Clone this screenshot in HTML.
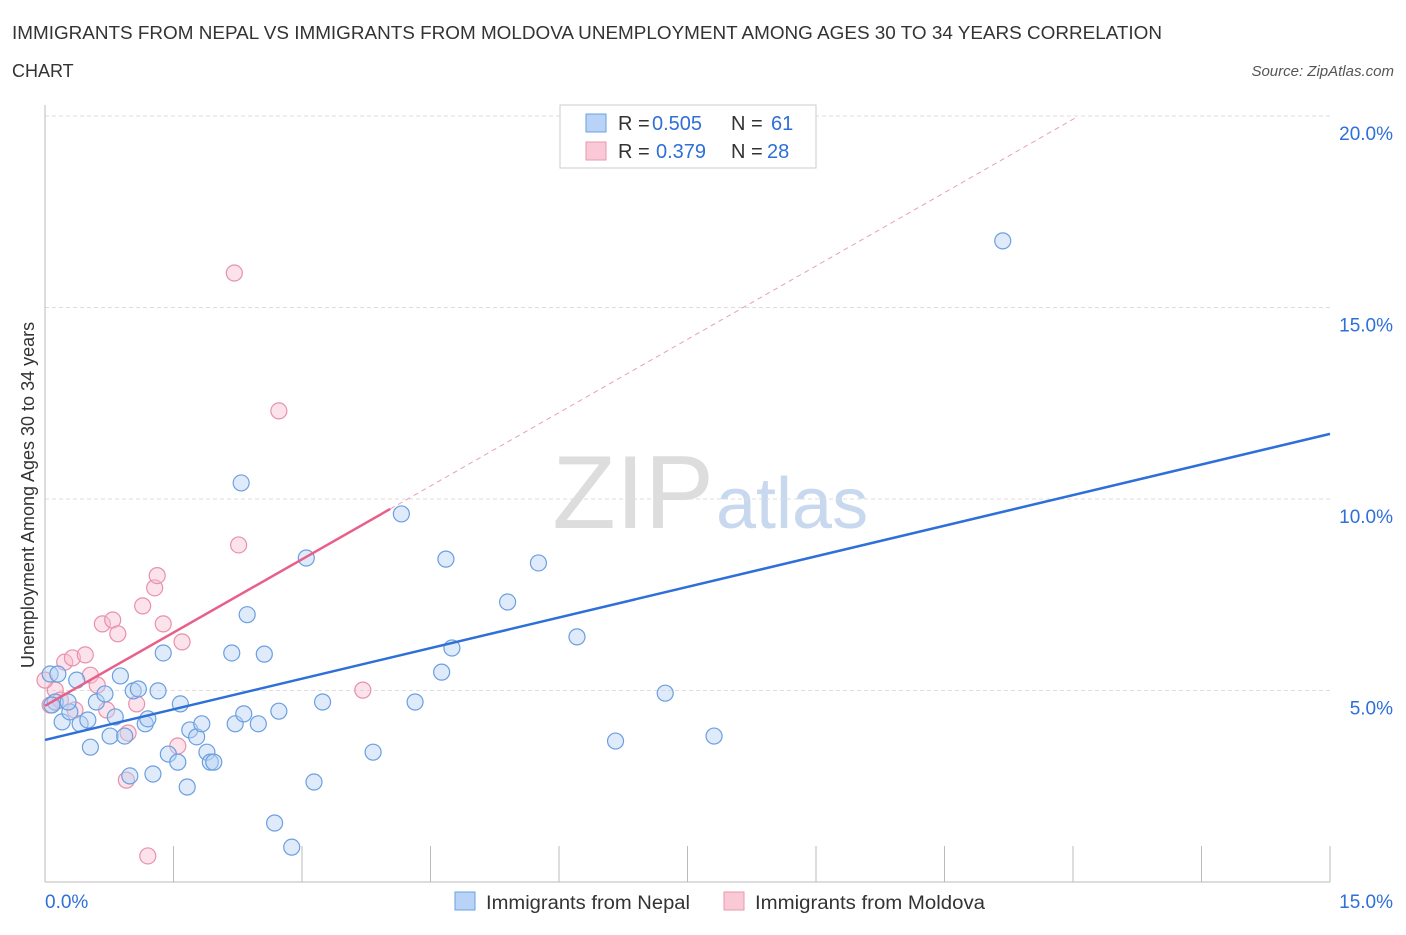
<!DOCTYPE html>
<html><head><meta charset="utf-8"><style>
body{margin:0;background:#fff;font-family:"Liberation Sans",sans-serif;}
svg text{font-family:"Liberation Sans",sans-serif;}
</style></head><body>
<svg width="1406" height="930" id="c">
<text x="12" y="39" font-size="18" fill="#333" textLength="1150" lengthAdjust="spacingAndGlyphs">IMMIGRANTS FROM NEPAL VS IMMIGRANTS FROM MOLDOVA UNEMPLOYMENT AMONG AGES 30 TO 34 YEARS CORRELATION</text>
<text x="12" y="77" font-size="18" fill="#333">CHART</text>
<text x="1394" y="76" font-size="15" fill="#555" font-style="italic" text-anchor="end">Source: ZipAtlas.com</text>
<text x="714" y="528" font-size="104" fill="#ddd" text-anchor="end" font-family="Liberation Serif">ZIP</text>
<text x="716" y="528" font-size="72" fill="#c8d8ee">atlas</text>
<text x="34" y="495" font-size="18" fill="#333" text-anchor="middle" transform="rotate(-90 34 495)">Unemployment Among Ages 30 to 34 years</text>
<g id="grid"></g><g id="marks"></g>
<rect x="560" y="105" width="256" height="63" fill="#fff" stroke="#ccc"/>
<rect x="586" y="114" width="20" height="18" fill="#b8d3f5" stroke="#6a9fe0"/>
<rect x="586" y="142" width="20" height="18" fill="#f9c9d6" stroke="#e89ab0"/>
<g font-size="20" fill="#333">
<text x="618" y="130">R =</text>
<text x="652" y="130" fill="#2e6fd8">0.505</text>
<text x="731" y="130">N =</text>
<text x="771" y="130" fill="#2e6fd8">61</text>
<text x="618" y="158">R =</text>
<text x="656" y="158" fill="#2e6fd8">0.379</text>
<text x="731" y="158">N =</text>
<text x="767" y="158" fill="#2e6fd8">28</text>
</g>
<rect x="455" y="892" width="20" height="18" fill="#b8d3f5" stroke="#6a9fe0"/>
<text x="486" y="909" font-size="19" fill="#333" textLength="204" lengthAdjust="spacingAndGlyphs">Immigrants from Nepal</text>
<rect x="724" y="892" width="20" height="18" fill="#f9c9d6" stroke="#e89ab0"/>
<text x="755" y="909" font-size="19" fill="#333" textLength="230" lengthAdjust="spacingAndGlyphs">Immigrants from Moldova</text>
</svg>
<script>
const yTicks=[5,10,15,20];
const xTickLabels=["0.0%","15.0%"];
const nepalX=[0.06,0.12,0.2,0.15,0.29,0.37,0.41,0.5,0.53,0.6,0.7,0.76,0.82,0.88,0.93,0.99,1.03,1.09,1.17,1.2,1.26,1.32,1.38,1.44,1.55,1.58,1.66,1.69,1.77,1.83,1.89,1.93,1.97,2.18,2.22,2.29,2.32,2.36,2.49,2.56,2.68,2.73,2.88,3.05,3.14,3.24,3.83,4.16,4.32,4.63,4.68,4.75,5.4,5.76,6.21,6.66,7.24,7.81,11.18,0.08,0.27];
const nepalY=[5.43,4.7,4.18,5.43,4.44,5.27,4.13,4.23,3.52,4.7,4.91,3.81,4.31,5.38,3.81,2.77,4.99,5.04,4.13,4.26,2.82,4.99,5.98,3.34,3.13,4.65,2.48,3.97,3.79,4.13,3.39,3.13,3.13,5.98,4.13,10.42,4.39,6.98,4.13,5.95,1.54,4.46,0.91,8.46,2.61,4.7,3.39,9.61,4.7,5.48,8.43,6.11,7.31,8.33,6.4,3.68,4.93,3.81,16.74,4.62,4.7];
const molX=[0.06,0.12,0.18,0.23,0.32,0.47,0.53,0.61,0.67,0.72,0.79,0.85,0.97,0.95,1.07,1.14,1.2,1.28,1.31,1.38,1.55,1.6,2.21,2.26,2.73,3.71,0.0,0.35];
const molY=[4.62,5.01,4.75,5.74,5.85,5.93,5.4,5.14,6.74,4.49,6.84,6.48,3.89,2.66,4.65,7.21,0.68,7.68,8.0,6.74,3.55,6.27,15.9,8.80,12.30,5.01,5.27,4.49];
const X0=45,X1=1330,Yb=882,PY=38.3;
const sx=v=>X0+(v/15)*(X1-X0), sy=v=>Yb-v*PY;
const NS="http://www.w3.org/2000/svg";
const grid=document.getElementById('grid'),marks=document.getElementById('marks');
function mk(tag,a,parent){const e=document.createElementNS(NS,tag);for(const k in a)e.setAttribute(k,a[k]);parent.appendChild(e);return e;}
yTicks.forEach(t=>{
 const l=mk('line',{x1:X0,x2:X1,y1:sy(t),y2:sy(t),stroke:'#ddd','stroke-dasharray':'4,3'},grid);
 
 
 const tx=mk('text',{x:1393,y:sy(t)+24,'font-size':19,fill:'#2e6fd8','text-anchor':'end'},grid);
 tx.textContent=t.toFixed(1)+'%';
 
 
});
const ax=mk('line',{x1:X0,x2:X1,y1:Yb,y2:Yb,stroke:'#bbb'},grid);


const ay=mk('line',{x1:X0,x2:X0,y1:105,y2:Yb,stroke:'#bbb'},grid);


for(let i=0;i<=10;i++){const t=mk('line',{x1:sx(i*1.5),x2:sx(i*1.5),y1:Yb,y2:i==0?Yb:Yb-36,stroke:'#bbb'},grid);
 
 }
[[0,45,'start'],[15,1393,'end']].forEach((d,i)=>{const t=mk('text',{x:d[1],y:908,'font-size':19,fill:'#2e6fd8','text-anchor':d[2]},grid);t.textContent=xTickLabels[i];
 
 });
function pts(xs,ys,fill,stroke,name){xs.forEach((x,i)=>{const c=mk('circle',{cx:sx(x),cy:sy(ys[i]),r:8,fill:fill,'fill-opacity':0.45,stroke:stroke,'stroke-width':1.2},marks);
 
 });}
pts(molX,molY,'#f9bfd0','#e891ab','point-moldova');
pts(nepalX,nepalY,'#b8d3f5','#6a9fe0','point-nepal');
const bl=mk('line',{x1:sx(0),y1:sy(3.71),x2:sx(15),y2:sy(11.70),stroke:'#2e6fd8','stroke-width':2.5},marks);


const pd=mk('line',{x1:sx(4.03),y1:sy(9.74),x2:sx(12.02),y2:sy(19.94),stroke:'#e8a0b4','stroke-width':1,'stroke-dasharray':'5,4'},marks);


const pl=mk('line',{x1:sx(0),y1:sy(4.6),x2:sx(4.03),y2:sy(9.74),stroke:'#e8608a','stroke-width':2.5},marks);


</script>
</body></html>
